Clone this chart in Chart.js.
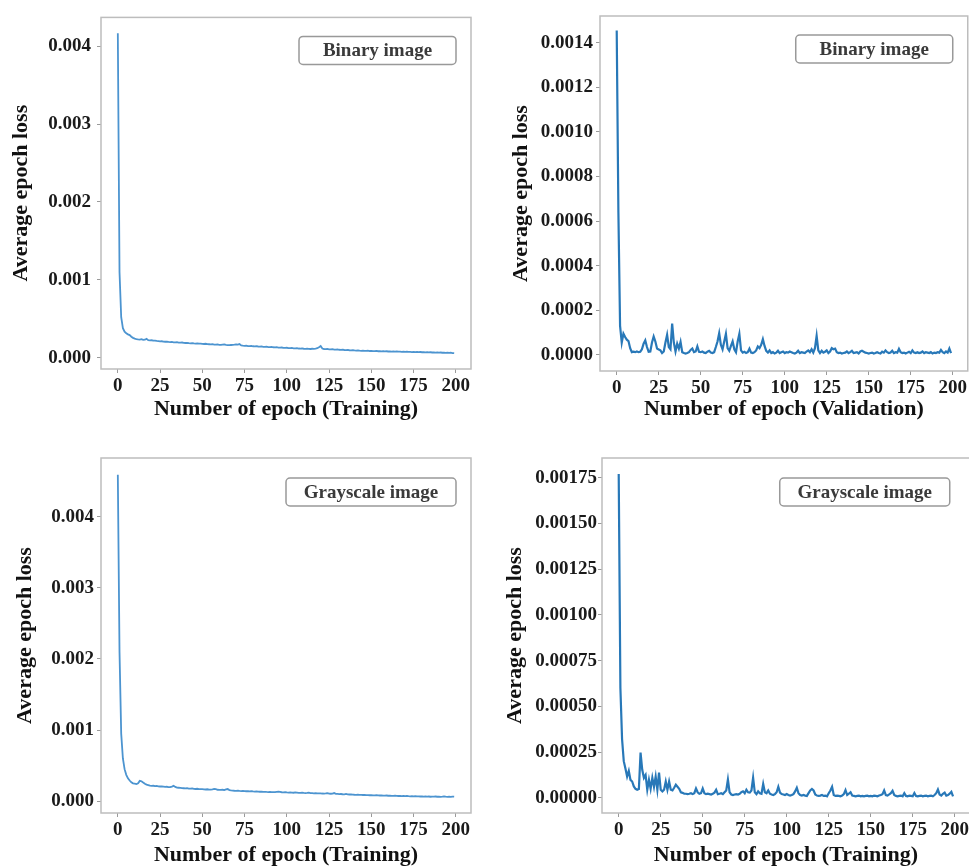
<!DOCTYPE html>
<html>
<head>
<meta charset="utf-8">
<title>Average epoch loss</title>
<script src="https://cdn.jsdelivr.net/npm/chart.js@4.4.1/dist/chart.umd.min.js"></script>
<style>
	html, body { margin: 0; padding: 0; background: #fff; }
	#page { position: relative; width: 969px; height: 868px; overflow: hidden; }
	canvas { position: absolute; }
</style>
</head>
<body>
<div id="page">
	<canvas id="c1" width="485" height="430" style="left:0;top:0"></canvas>
	<canvas id="c2" width="484" height="430" style="left:485px;top:0"></canvas>
	<canvas id="c3" width="485" height="450" style="left:0;top:430px"></canvas>
	<canvas id="c4" width="486" height="450" style="left:485px;top:430px"></canvas>
</div>
<script>
// losses are written in millionths (1e-6) and converted when plotted
const epochTicks = [0, 25, 50, 75, 100, 125, 150, 175, 200]

const binaryTrainE6 = [
	4165, 1100, 520, 380, 335, 315, 300, 290, 270, 255,
	245, 240, 236, 233, 238, 229, 231, 242, 226, 222,
	224, 219, 220, 215, 212, 209, 211, 206, 205, 207,
	202, 201, 203, 198, 197, 199, 194, 193, 195, 190,
	189, 191, 186, 185, 188, 183, 182, 185, 180, 182,
	178, 176, 179, 174, 173, 171, 173, 168, 167, 170,
	165, 164, 167, 170, 164, 162, 161, 163, 165, 168,
	172, 168, 175, 158, 155, 153, 154, 150, 149, 151,
	147, 146, 148, 144, 143, 146, 140, 139, 141, 137,
	136, 138, 134, 133, 135, 130, 129, 131, 127, 126,
	128, 124, 123, 125, 121, 120, 122, 118, 117, 119,
	115, 114, 116, 114, 112, 115, 113, 117, 122, 135,
	150, 118, 112, 110, 113, 108, 107, 109, 105, 104,
	106, 102, 101, 103, 99, 98, 100, 96, 95, 97,
	93, 92, 94, 90, 89, 92, 89, 87, 90, 86,
	88, 85, 84, 87, 83, 85, 82, 84, 81, 83,
	80, 82, 79, 81, 78, 80, 77, 79, 76, 78,
	75, 77, 74, 76, 73, 75, 72, 74, 71, 73,
	70, 72, 69, 71, 68, 70, 67, 69, 66, 68,
	65, 67, 64, 66, 63, 65, 62, 64, 60, 58,
]

const binaryValidE6 = [
	1455, 640, 130, 55, 95, 80, 68, 62, 30, 12,
	14, 12, 15, 12, 14, 25, 50, 65, 35, 14,
	15, 55, 82, 60, 28, 24, 20, 8, 15, 55,
	90, 35, 25, 140, 55, 15, 50, 28, 58, 12,
	8, 6, 8, 12, 22, 28, 12, 15, 38, 14,
	12, 15, 10, 8, 14, 18, 10, 8, 12, 35,
	60, 97, 45, 25, 60, 94, 30, 18, 40, 60,
	25, 12, 60, 94, 20, 10, 14, 8, 12, 28,
	10, 8, 12, 20, 38, 30, 45, 70, 40, 18,
	10, 20, 8, 12, 6, 10, 18, 8, 12, 15,
	8, 12, 10, 15, 12, 8, 6, 10, 18, 8,
	12, 10, 8, 15, 20, 12, 25, 10, 30, 85,
	20, 8, 18, 10, 14, 20, 8, 15, 30, 25,
	28, 12, 8, 10, 6, 8, 10, 15, 8, 12,
	18, 8, 10, 12, 6, 15, 18, 14, 10, 8,
	6, 8, 10, 6, 8, 12, 8, 6, 14, 10,
	20, 12, 8, 10, 18, 8, 12, 10, 27, 12,
	8, 10, 6, 10, 14, 8, 20, 10, 8, 12,
	8, 10, 15, 8, 12, 10, 8, 12, 6, 10,
	8, 12, 10, 22, 12, 8, 15, 10, 28, 8,
]

const grayTrainE6 = [
	4590, 2100, 950, 600, 450, 370, 320, 290, 265, 250,
	245, 240, 250, 285, 280, 262, 245, 232, 225, 218,
	215, 216, 212, 214, 209, 206, 208, 204, 200, 202,
	198, 196, 205, 215, 200, 190, 188, 186, 183, 181,
	179, 182, 177, 175, 178, 173, 171, 174, 169, 168,
	170, 166, 164, 167, 163, 162, 165, 172, 168, 160,
	158, 157, 160, 156, 165, 170, 155, 150, 148, 146,
	145, 147, 143, 142, 144, 140, 139, 141, 137, 140,
	136, 135, 137, 133, 132, 134, 130, 131, 129, 128,
	130, 127, 126, 128, 131, 133, 129, 125, 124, 126,
	122, 121, 123, 119, 118, 124, 121, 117, 116, 118,
	115, 114, 116, 119, 113, 112, 110, 113, 109, 108,
	110, 107, 106, 108, 112, 105, 104, 106, 114, 103,
	101, 99, 100, 97, 96, 101, 95, 93, 95, 92,
	90, 89, 91, 88, 87, 86, 88, 85, 84, 83,
	85, 82, 81, 83, 80, 79, 81, 78, 77, 79,
	76, 78, 75, 74, 76, 73, 72, 74, 71, 73,
	70, 72, 69, 68, 70, 67, 69, 66, 68, 65,
	67, 64, 66, 63, 65, 62, 64, 63, 65, 62,
	64, 61, 63, 66, 62, 60, 63, 61, 64, 62,
]

const grayValidE6 = [
	1770, 600, 320, 200, 160, 116, 147, 98, 89, 62,
	49, 44, 48, 247, 153, 109, 125, 44, 98, 49,
	109, 60, 116, 44, 138, 44, 35, 44, 89, 44,
	89, 44, 40, 55, 71, 60, 49, 30, 27, 22,
	22, 20, 22, 25, 20, 25, 51, 30, 22, 25,
	51, 25, 20, 22, 20, 18, 22, 28, 44, 20,
	22, 25, 20, 30, 40, 100, 30, 18, 15, 18,
	20, 18, 22, 30, 35, 25, 44, 30, 28, 40,
	110, 30, 20, 35, 25, 22, 75, 30, 25, 40,
	22, 18, 15, 20, 30, 60, 28, 20, 18, 15,
	20, 15, 12, 15, 20, 35, 55, 25, 15, 12,
	15, 12, 10, 25, 40, 48, 40, 18, 12, 10,
	12, 15, 10, 12, 8, 25, 40, 60, 15, 10,
	12, 10, 8, 12, 20, 42, 15, 22, 30, 12,
	10, 8, 10, 12, 8, 10, 8, 10, 12, 8,
	10, 8, 12, 10, 8, 12, 15, 20, 40, 15,
	12, 18, 25, 38, 15, 10, 8, 10, 12, 8,
	25, 10, 8, 12, 10, 8, 26, 10, 8, 10,
	12, 8, 10, 12, 8, 10, 12, 8, 15, 25,
	45, 18, 12, 22, 28, 12, 15, 22, 32, 7,
]

const ticksBinaryTrain = [0, 0.001, 0.002, 0.003, 0.004]
const ticksBinaryValid = [0, 0.0002, 0.0004, 0.0006, 0.0008, 0.001, 0.0012, 0.0014]
const ticksGrayTrain = [0, 0.001, 0.002, 0.003, 0.004]
const ticksGrayValid = [0, 0.00025, 0.0005, 0.00075, 0.001, 0.00125, 0.0015, 0.00175]

const serif = '"Liberation Serif", "Times New Roman", serif'

// box round the plot + the little rounded legend box at the top right
const framePlugin = {
	id: 'frame',
	afterDraw(chart, args, opts) {
		const { ctx, chartArea: a } = chart
		ctx.save()
		ctx.strokeStyle = '#bdbdbd'
		ctx.lineWidth = 1.5
		ctx.strokeRect(a.left, a.top, a.right - a.left, a.bottom - a.top)

		const w = opts.boxWidth
		const h = 28
		const x = a.right - opts.boxRight - w
		const y = a.top + opts.boxTop
		ctx.beginPath()
		ctx.roundRect(x, y, w, h, 4)
		ctx.fillStyle = '#fff'
		ctx.fill()
		ctx.strokeStyle = '#999'
		ctx.lineWidth = 1.5
		ctx.stroke()
		ctx.font = `bold 19px ${serif}`
		ctx.fillStyle = '#3a3a3a'
		ctx.textAlign = 'center'
		ctx.textBaseline = 'middle'
		ctx.fillText(chart.data.datasets[0].label, x + w / 2, y + h / 2 + 1)
		ctx.restore()
	},
}

function makeChart(id, cfg) {
	const points = cfg.values.map((v, i) => ({ x: i, y: v / 1e6 }))
	return new Chart(document.getElementById(id), {
		type: 'line',
		data: {
			datasets: [
				{
					label: cfg.label,
					data: points,
					borderColor: cfg.color,
					borderWidth: cfg.width,
					pointRadius: 0,
					tension: 0,
					fill: false,
				},
			],
		},
		options: {
			responsive: false,
			animation: false,
			layout: { padding: cfg.padding },
			plugins: {
				legend: { display: false },
				tooltip: { enabled: false },
				frame: cfg.legend,
			},
			scales: {
				x: {
					type: 'linear',
					min: -9.95,
					max: 208.95,
					afterBuildTicks: (s) => (s.ticks = epochTicks.map((v) => ({ value: v }))),
					afterFit: (s) => (s.height = cfg.xHeight),
					grid: { drawOnChartArea: false, drawTicks: true, tickLength: 4, color: '#9a9a9a' },
					border: { display: false },
					ticks: {
						color: '#1a1a1a',
						padding: 2,
						maxRotation: 0,
						autoSkip: false,
						font: { family: serif, size: 19, weight: 'bold' },
					},
					title: {
						display: true,
						text: cfg.xTitle,
						color: '#111',
						padding: { top: 0, bottom: cfg.xTitlePad },
						font: { family: serif, size: 22, weight: 'bold' },
					},
				},
				y: {
					min: cfg.yMin,
					max: cfg.yMax,
					afterBuildTicks: (s) => (s.ticks = cfg.yTicks.map((v) => ({ value: v }))),
					afterFit: (s) => (s.width = cfg.yWidth),
					grid: { drawOnChartArea: false, drawTicks: true, tickLength: 4, color: '#9a9a9a' },
					border: { display: false },
					ticks: {
						color: '#1a1a1a',
						padding: cfg.yTickPad,
						autoSkip: false,
						font: { family: serif, size: 19, weight: 'bold' },
						callback: (v) => Number(v).toFixed(cfg.decimals),
					},
					title: {
						display: true,
						text: 'Average epoch loss',
						color: '#111',
						padding: { top: cfg.yTitlePad, bottom: 0 },
						font: { family: serif, size: 22, weight: 'bold' },
					},
				},
			},
		},
		plugins: [framePlugin],
	})
}

makeChart('c1', {
	label: 'Binary image',
	values: binaryTrainE6,
	color: '#4c94d0',
	width: 1.8,
	yTicks: ticksBinaryTrain,
	decimals: 3,
	yMin: -0.000145,
	yMax: 0.00437,
	xTitle: 'Number of epoch (Training)',
	padding: { top: 14, right: 14, left: 0, bottom: 0 },
	yWidth: 101,
	xHeight: 61,
	yTickPad: 6,
	yTitlePad: 8,
	xTitlePad: 7,
	legend: { boxWidth: 157, boxRight: 15, boxTop: 19 },
})

makeChart('c2', {
	label: 'Binary image',
	values: binaryValidE6,
	color: '#2878b8',
	width: 2.2,
	yTicks: ticksBinaryValid,
	decimals: 4,
	yMin: -0.0000725,
	yMax: 0.00152,
	xTitle: 'Number of epoch (Validation)',
	padding: { top: 16, right: 1, left: 0, bottom: 0 },
	yWidth: 115,
	xHeight: 59,
	yTickPad: 3,
	yTitlePad: 23,
	xTitlePad: 7,
	legend: { boxWidth: 157, boxRight: 15, boxTop: 19 },
})

makeChart('c3', {
	label: 'Grayscale image',
	values: grayTrainE6,
	color: '#4c94d0',
	width: 1.8,
	yTicks: ticksGrayTrain,
	decimals: 3,
	yMin: -0.000167,
	yMax: 0.004827,
	xTitle: 'Number of epoch (Training)',
	padding: { top: 28, right: 14, left: 0, bottom: 0 },
	yWidth: 101,
	xHeight: 67,
	yTickPad: 3,
	yTitlePad: 12,
	xTitlePad: 11,
	legend: { boxWidth: 170, boxRight: 15, boxTop: 20 },
})

makeChart('c4', {
	label: 'Grayscale image',
	values: grayValidE6,
	color: '#2878b8',
	width: 2.2,
	yTicks: ticksGrayValid,
	decimals: 5,
	yMin: -0.0000833,
	yMax: 0.001858,
	xTitle: 'Number of epoch (Training)',
	padding: { top: 28, right: 1, left: 0, bottom: 0 },
	yWidth: 117,
	xHeight: 67,
	yTickPad: 1,
	yTitlePad: 17,
	xTitlePad: 11,
	legend: { boxWidth: 170, boxRight: 20, boxTop: 20 },
})
</script>
</body>
</html>
